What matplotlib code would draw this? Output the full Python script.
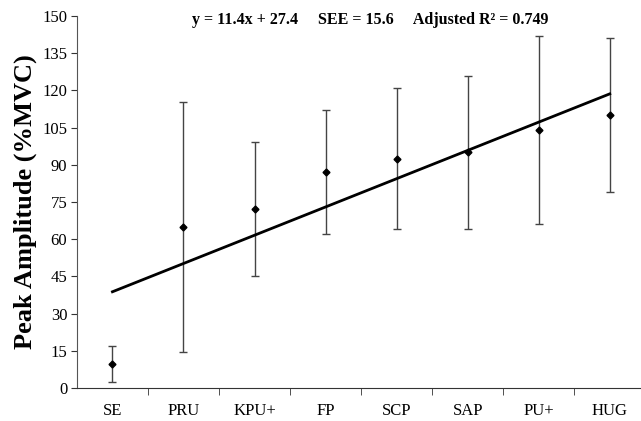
import matplotlib
matplotlib.use('Agg')
from matplotlib import pyplot as plt
import numpy as np

categories = ['SE', 'PRU', 'KPU+', 'FP', 'SCP', 'SAP', 'PU+', 'HUG']
means = [9.7, 65, 72, 87, 92.5, 95, 104, 110]
sds = [7.3, 50.5, 27, 25, 28.5, 31, 38, 31]
slope, intercept = 11.4, 27.4
yticks = [0, 15, 30, 45, 60, 75, 90, 105, 120, 135, 150]

plt.rcParams['font.family'] = ['Liberation Serif', 'DejaVu Serif']

def main():
    fig = plt.figure(figsize=(6.41, 4.21), dpi=100)
    ax = fig.add_axes([0.120, 0.0784, 0.88, 0.8836])
    x = np.arange(1, len(categories) + 1)

    ax.errorbar(x, means, yerr=sds, fmt='none', ecolor='#444444',
                elinewidth=1, capsize=3, capthick=1)
    ax.plot(x, means, 'D', color='black', markersize=3.5)
    # regression line
    ax.plot([x[0], x[-1]], [slope * x[0] + intercept, slope * x[-1] + intercept],
            color='black', lw=2)

    ax.set_xlim(0.5, 8.44)
    ax.set_ylim(0, 150)
    ax.set_yticks(yticks)
    ax.set_xticks(x)
    ax.set_xticklabels(categories, fontsize=12)
    ax.set_xticks(np.arange(1.5, 8.5, 1), minor=True)
    ax.tick_params(axis='x', which='major', length=0, pad=11)
    ax.tick_params(axis='x', which='minor', length=5, direction='out', color='#333333')
    ax.tick_params(axis='y', length=4, direction='out', labelsize=12, color='#333333', pad=3)
    for s in ['top', 'right']:
        ax.spines[s].set_visible(False)
    ax.spines['left'].set_color('#555555')
    ax.spines['bottom'].set_color('#333333')

    ax.set_ylabel('Peak Amplitude (%MVC)', fontsize=19, fontweight='bold', labelpad=4)
    fig.text(0.578, 1 - 20 / 421,
             'y = 11.4x + 27.4     SEE = 15.6     Adjusted R\u00b2 = 0.749',
             ha='center', va='center', fontsize=11.5, fontweight='bold')

    fig.savefig('out.png', dpi=100)

if __name__ == '__main__':
    main()
